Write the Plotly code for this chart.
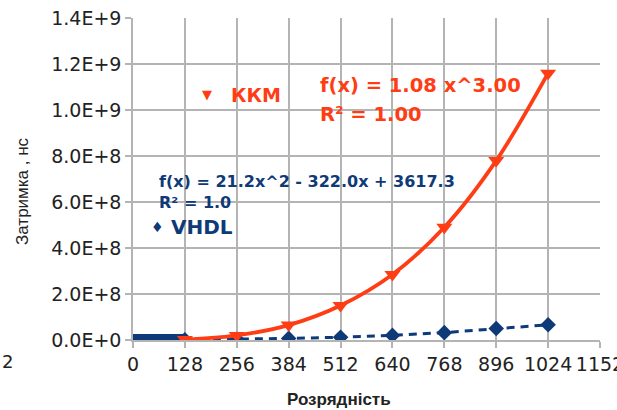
import plotly.graph_objects as go

# data
x_kkm = [128, 256, 384, 512, 640, 768, 896, 1024]
y_kkm = [2.0e6, 2.0e7, 6.5e7, 1.5e8, 2.85e8, 4.9e8, 7.8e8, 1.16e9]

x_vhdl = [128, 256, 384, 512, 640, 768, 896, 1024]
y_vhdl = [1.0e6, 3.0e6, 7.0e6, 1.2e7, 2.0e7, 3.2e7, 5.0e7, 6.6e7]

x_low = [0, 128]
y_low = [0, 0]

x_ticks = [0, 128, 256, 384, 512, 640, 768, 896, 1024, 1152]
y_ticks = [0, 2e8, 4e8, 6e8, 8e8, 1.0e9, 1.2e9, 1.4e9]
y_ticktext = ["0.0E+0", "2.0E+8", "4.0E+8", "6.0E+8", "8.0E+8", "1.0E+9", "1.2E+9", "1.4E+9"]

RED = "#ff3d14"
BLUE = "#0f3a78"
TXT = "#222222"
GRID = "#b4b4b4"
DJ = "DejaVu Sans"
LS = "Liberation Sans"

fig = go.Figure()
fig.add_trace(go.Scatter(x=x_low, y=y_low, mode="lines",
                         line=dict(color=BLUE, width=12), showlegend=False,
                         hoverinfo="skip"))
fig.add_trace(go.Scatter(x=x_vhdl, y=y_vhdl, mode="lines+markers", name="VHDL",
                         line=dict(color=BLUE, width=3, dash="8px,6px"),
                         marker=dict(symbol="diamond", size=12, color=BLUE)))
fig.add_trace(go.Scatter(x=x_kkm, y=y_kkm, mode="lines+markers", name="ККМ",
                         line=dict(color=RED, width=3.8, shape="spline"),
                         marker=dict(symbol="triangle-down", size=14, color=RED)))

W0, W1 = 133, 600
H0, H1 = 18, 340
def px(xp): return (xp - W0) / (W1 - W0)
def py(yp): return (H1 - yp) / (H1 - H0)

ann = []
def a(x, y, text, color, size, family=DJ, anchor="left", angle=0):
    ann.append(dict(xref="paper", yref="paper", x=px(x), y=py(y), text=text, showarrow=False,
                    xanchor=anchor, yanchor="middle", textangle=angle,
                    font=dict(family=family, size=size, color=color)))

a(207, 95, "▼", RED, 13, anchor="center")
a(229, 95, "<b>ККМ</b>", RED, 19)
a(318, 86, "<b>f(x) = 1.08 x^3.00</b>", RED, 19.5)
a(318, 114, "<b>R² = 1.00</b>", RED, 19.5)
a(157, 181, "<b>f(x) = 21.2x^2 - 322.0x + 3617.3</b>", BLUE, 16)
a(157, 203, "<b>R² = 1.0</b>", BLUE, 16)
a(157, 227, "♦", BLUE, 14, anchor="center")
a(169, 227, "<b>VHDL</b>", BLUE, 20)
a(8, 361, "2", TXT, 18, anchor="center")
a(339, 399, "<b>Розрядність</b>", TXT, 17, family=LS, anchor="center")
a(22, 191, "Затримка , нс", TXT, 17, family=LS, anchor="center", angle=-90)

fig.update_layout(
    width=617, height=410,
    margin=dict(l=W0, r=617 - W1, t=H0, b=410 - H1, autoexpand=False),
    paper_bgcolor="white", plot_bgcolor="white",
    showlegend=False,
    font=dict(family=DJ, color=TXT),
    annotations=ann,
    xaxis=dict(range=[0, 1152], tickvals=x_ticks, ticks="outside", ticklen=6,
               tickangle=0, tickcolor=GRID, tickwidth=1.5, ticklabeloverflow="allow",
               automargin=False,
               showgrid=True, gridcolor=GRID, gridwidth=1.5,
               showline=True, linecolor=GRID, linewidth=1.5, zeroline=False,
               tickfont=dict(family=DJ, size=19, color=TXT)),
    yaxis=dict(range=[0, 1.4e9], tickvals=y_ticks, ticktext=y_ticktext, ticks="outside",
               automargin=False,
               ticklen=6, tickcolor=GRID, tickwidth=1.5, showgrid=True, gridcolor=GRID,
               gridwidth=1.5, showline=True, linecolor=GRID, linewidth=1.5,
               zeroline=False, tickfont=dict(family=DJ, size=19, color=TXT)),
)

fig.write_html("out.html", config={"displayModeBar": False},
               post_script="document.body.style.margin='0';document.body.style.overflow='hidden';")
